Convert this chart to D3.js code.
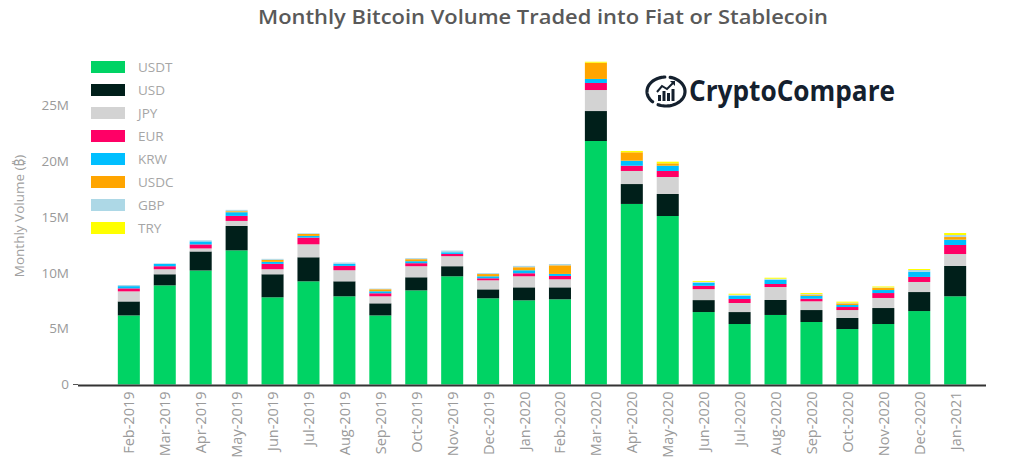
<!DOCTYPE html>
<html>
<head>
<meta charset="utf-8">
<script src="https://cdn.jsdelivr.net/npm/d3@7"></script>
<style>
  html, body { margin: 0; padding: 0; background: #fff; }
  svg { display: block; font-family: "Open Sans", "Noto Sans", sans-serif; }
</style>
</head>
<body>
<svg id="chart" width="1014" height="474"></svg>
<script>
const months = ["Feb-2019","Mar-2019","Apr-2019","May-2019","Jun-2019","Jul-2019","Aug-2019","Sep-2019","Oct-2019","Nov-2019","Dec-2019","Jan-2020","Feb-2020","Mar-2020","Apr-2020","May-2020","Jun-2020","Jul-2020","Aug-2020","Sep-2020","Oct-2020","Nov-2020","Dec-2020","Jan-2021"];
const seriesNames = ["USDT","USD","JPY","EUR","KRW","USDC","GBP","TRY"];
const seriesColors = ["#00d364","#001f1a","#d3d3d3","#ff0066","#00bfff","#ffa500","#add8e6","#ffff00"];
// values in millions of BTC
const USDT = [6.18,8.87,10.2,12.0,7.8,9.23,7.89,6.18,8.42,9.68,7.71,7.53,7.62,21.78,16.15,15.07,6.48,5.41,6.22,5.59,4.96,5.41,6.57,7.89];
const USD  = [1.25,0.99,1.7,2.18,2.06,2.15,1.34,1.08,1.17,0.9,0.8,1.16,1.07,2.68,1.78,1.97,1.07,1.07,1.34,1.07,0.99,1.43,1.7,2.71];
const JPY  = [0.9,0.45,0.27,0.45,0.45,1.16,0.99,0.63,0.99,0.9,0.81,0.99,0.72,1.88,1.17,1.52,0.98,0.81,1.16,0.78,0.71,0.9,0.9,1.07];
const EUR  = [0.27,0.27,0.36,0.45,0.48,0.6,0.39,0.27,0.27,0.2,0.18,0.27,0.3,0.63,0.47,0.54,0.3,0.36,0.27,0.23,0.27,0.44,0.45,0.81];
const KRW  = [0.2,0.2,0.27,0.33,0.18,0.15,0.18,0.18,0.18,0.15,0.18,0.27,0.18,0.36,0.45,0.47,0.27,0.29,0.38,0.27,0.18,0.27,0.47,0.47];
const USDC = [0,0,0,0.09,0.18,0.18,0,0.18,0.18,0,0.2,0.27,0.77,1.45,0.75,0.21,0,0,0,0.1,0.15,0.18,0,0.24];
const GBP  = [0.1,0.06,0.1,0.12,0.09,0.06,0.12,0.06,0.09,0.15,0.08,0.12,0.12,0,0,0,0.08,0.09,0.09,0.05,0.05,0.05,0.15,0.18];
const TRY  = [0,0,0,0,0,0,0,0,0,0,0,0,0,0.09,0.12,0.15,0.08,0.09,0.09,0.09,0.1,0.09,0.09,0.18];
const yTicks = [0,5,10,15,20,25];
const yTickLabels = ["0","5M","10M","15M","20M","25M"];

const seriesValues = {USDT, USD, JPY, EUR, KRW, USDC, GBP, TRY};
const table = months.map((m, i) => {
  const row = {month: m};
  seriesNames.forEach(s => row[s] = seriesValues[s][i]);
  return row;
});

const svg = d3.select("#chart");
const x = d3.scaleBand().domain(months).range([111, 973]).paddingInner(0.387).paddingOuter(0.19);
const y = d3.scaleLinear().domain([0, 25]).range([384.5, 105]);
const color = d3.scaleOrdinal().domain(seriesNames).range(seriesColors);

// title
svg.append("text")
  .attr("x", 258).attr("y", 24)
  .attr("font-size", 20).attr("font-weight", 600)
  .attr("fill", "#595959")
  .attr("textLength", 570).attr("lengthAdjust", "spacingAndGlyphs")
  .text("Monthly Bitcoin Volume Traded into Fiat or Stablecoin");

// stacked bars
const stack = d3.stack().keys(seriesNames)(table);
svg.append("g").selectAll("g").data(stack).join("g")
  .attr("fill", d => color(d.key))
  .selectAll("rect").data(d => d).join("rect")
  .attr("x", d => x(d.data.month))
  .attr("width", x.bandwidth())
  .attr("y", d => y(d[1]))
  .attr("height", d => Math.max(0, y(d[0]) - y(d[1])));

// y axis labels
const yAxis = d3.axisLeft(y).tickValues(yTicks).tickFormat((d, i) => yTickLabels[i]).tickSize(0).tickPadding(0);
const gy = svg.append("g").attr("transform", "translate(69,0)").call(yAxis);
gy.select(".domain").remove();
gy.selectAll("text").attr("font-size", 13.5).attr("fill", "#9a9a9a").attr("font-family", "Open Sans, sans-serif");
// small tick at zero
svg.append("line").attr("x1", 73).attr("x2", 78).attr("y1", y(0)).attr("y2", y(0)).attr("stroke", "#555").attr("stroke-width", 1);

// baseline
svg.append("line").attr("x1", 78).attr("x2", 986).attr("y1", y(0) + 1).attr("y2", y(0) + 1)
  .attr("stroke", "#333").attr("stroke-width", 2);

// x axis
const xAxis = d3.axisBottom(x).tickSize(0).tickPadding(0);
const gx = svg.append("g").attr("transform", `translate(0,${y(0) + 7})`).call(xAxis);
gx.select(".domain").remove();
gx.selectAll("text")
  .attr("font-size", 14.5).attr("fill", "#9a9a9a").attr("font-family", "Open Sans, sans-serif")
  .attr("text-anchor", "end")
  .attr("dy", null).attr("y", 0)
  .attr("transform", "rotate(-90)")
  .attr("x", 0)
  .attr("dx", 0)
  .attr("dominant-baseline", "central");

// y axis title
svg.append("text")
  .attr("transform", "translate(19,216) rotate(-90)")
  .attr("text-anchor", "middle")
  .attr("dominant-baseline", "central")
  .attr("font-size", 13.5).attr("fill", "#a0a0a0")
  .text("Monthly Volume (₿)");

// legend
const lg = svg.append("g");
seriesNames.forEach((s, i) => {
  const yy = 61 + i * 23;
  lg.append("rect").attr("x", 91).attr("y", yy).attr("width", 34).attr("height", 12).attr("fill", color(s));
  lg.append("text").attr("x", 138).attr("y", yy + 6).attr("dominant-baseline", "central")
    .attr("font-size", 13.5).attr("fill", "#a6a6a6").text(s);
});

// logo
const logo = svg.append("g");
const cx = 666, cy = 91.5, rx = 19, ry = 14.5;
const arc = (a0, a1) => {
  const pts = d3.range(a0, a1 + 0.001, (a1 - a0) / 40).map(a => [cx + rx * Math.cos(a), cy + ry * Math.sin(a)]);
  return d3.line()(pts);
};
logo.append("path").attr("d", arc(-1.35, 2.0)).attr("fill", "none").attr("stroke", "#14202e").attr("stroke-width", 3.2).attr("stroke-linecap", "round");
logo.append("path").attr("d", arc(2.35, 4.65)).attr("fill", "none").attr("stroke", "#14202e").attr("stroke-width", 3.2).attr("stroke-linecap", "round");
// mini bars
[[658, 95, 3, 6], [662.5, 91, 3, 10], [667, 93, 3, 8], [671.5, 89, 3, 12]].forEach(b => {
  logo.append("rect").attr("x", b[0]).attr("y", b[1]).attr("width", b[2]).attr("height", b[3]).attr("fill", "#14202e");
});
logo.append("path").attr("d", "M657,92 L662,86 L667,89 L674,82").attr("fill", "none").attr("stroke", "#14202e").attr("stroke-width", 2);
logo.append("path").attr("d", "M670,81 L675,81 L675,86 Z").attr("fill", "#14202e");
logo.append("text").attr("x", 689).attr("y", 101)
  .attr("font-size", 29).attr("font-weight", "bold").attr("fill", "#14202e")
  .attr("textLength", 206).attr("lengthAdjust", "spacingAndGlyphs")
  .text("CryptoCompare");
</script>
</body>
</html>
